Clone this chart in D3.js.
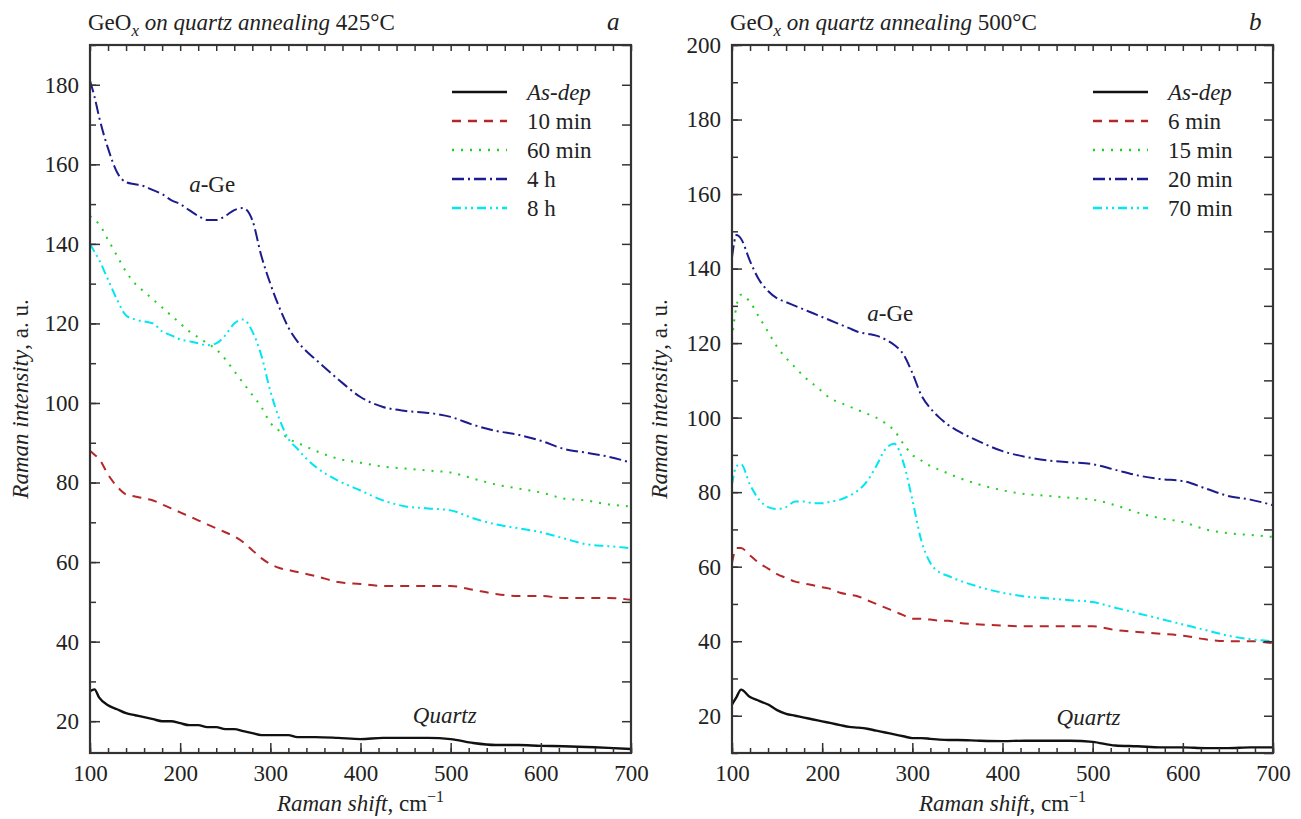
<!DOCTYPE html>
<html>
<head>
<meta charset="utf-8">
<script src="https://cdn.jsdelivr.net/npm/d3@7"></script>
<style>
  body { margin: 0; background: #fff; }
  svg { display: block; }
  svg text {
    font-family: "Liberation Serif", "DejaVu Serif", "Noto Serif", Tinos, "Times New Roman", Times,
      "Nimbus Roman", FreeSerif, serif !important;
  }
</style>
</head>
<body>
<svg id="chart" width="1301" height="819"></svg>
<script>
'use strict';

// Raman shift positions (cm-1), shared by both panels
var shifts = [100, 105, 110, 120, 130, 140, 150, 160, 170, 180, 190, 200, 210, 220, 230, 240, 250, 260, 270, 280,
  290, 300, 310, 320, 330, 340, 350, 375, 400, 425, 450, 475, 500, 525, 550, 575, 600, 625, 650, 675, 700];

var xTicks = [100, 200, 300, 400, 500, 600, 700];

// Panel a : annealing 425 C
var asDepA = [27.5, 28, 26, 24, 23, 22, 21.5, 21, 20.5, 20, 20, 19.5, 19, 19, 18.5, 18.5, 18, 18, 17.5, 17,
  16.5, 16.5, 16.5, 16.5, 16, 16, 16, 15.8, 15.5, 15.8, 15.8, 15.8, 15.5, 14.5, 14, 14, 13.8, 13.7, 13.5, 13.3, 13];
var min10A = [88, 87, 86, 82, 79, 77, 76.5, 76, 75.5, 74.5, 73.5, 72.5, 71.5, 70.5, 69.5, 68.5, 67.5, 66.5, 65, 63,
  61, 59.5, 58.5, 58, 57.5, 57, 56.5, 55, 54.5, 54, 54, 54, 54, 53, 52, 51.5, 51.5, 51, 51, 51, 50.5];
var min60A = [147, 146, 145, 141, 137, 133, 130, 128, 126, 124, 122, 120, 118, 116.5, 115, 113.5, 111, 108, 105, 102,
  99, 95, 93, 91, 90, 89, 88, 86, 85, 84, 83.5, 83, 82.5, 81, 79.5, 78.5, 77.5, 76, 75.5, 74.5, 74];
var h4A = [181, 177, 172, 164, 158, 155.5, 155, 154.5, 153.5, 152.5, 151, 150, 148.5, 147, 146, 146, 147, 148.5, 149, 146,
  137, 130, 124, 119, 115.5, 113, 111, 106, 101.5, 99, 98, 97.5, 96.5, 94.5, 93, 92, 90.5, 88.5, 87.5, 86.5, 85];
var h8A = [140, 138, 136, 131, 126, 122, 121, 120.5, 120, 118, 117, 116, 115.5, 115, 114.5, 115, 117, 120, 121, 118,
  112, 103, 96, 91, 88.5, 86, 84, 80.5, 78, 75.5, 74, 73.5, 73, 71, 69.5, 68.5, 67.5, 66, 64.5, 64, 63.5];
var labelsA = ['As-dep', '10 min', '60 min', '4 h', '8 h'];
var yTicksA = [20, 40, 60, 80, 100, 120, 140, 160, 180];

// Panel b : annealing 500 C
var asDepB = [23, 25, 27, 25, 24, 23, 21.5, 20.5, 20, 19.5, 19, 18.5, 18, 17.5, 17, 16.8, 16.5, 16, 15.5, 15,
  14.5, 14, 14, 13.8, 13.6, 13.5, 13.5, 13.3, 13.2, 13.3, 13.3, 13.3, 13, 12, 11.8, 11.5, 11.5, 11.3, 11.3, 11.5, 11.5];
var min6B = [61, 65, 65, 63, 61, 59.5, 58, 57, 56, 55.5, 55, 54.5, 54, 53, 52.5, 52, 51, 50, 49, 48,
  47, 46, 46, 45.8, 45.5, 45.5, 45, 44.5, 44.2, 44, 44, 44, 44, 43, 42.5, 42, 41.5, 40.5, 40, 40, 39.5];
var min15B = [121, 130, 133, 131, 127, 123, 119, 116, 113.5, 111, 109, 107, 105, 104, 103, 102, 101, 100, 98.5, 96.5,
  93, 90, 88.5, 87, 86, 85, 84, 82, 80.5, 79.5, 79, 78.5, 78, 76.5, 74.5, 73, 72, 70, 69, 68.5, 68];
var min20B = [143, 149, 148, 142, 137, 134, 132, 131, 130, 129, 128, 127, 126, 125, 124, 123, 122.5, 122, 121, 119.5,
  117, 112, 106, 102.5, 100, 98, 96.5, 93.5, 91, 89.5, 88.5, 88, 87.5, 86, 84.5, 83.5, 83, 81, 79, 78, 76.5];
var min70B = [82, 87, 87.5, 82, 78, 76, 75.5, 76, 77.5, 77.5, 77, 77, 77.5, 78, 79, 80.5, 83, 87, 91.5, 93,
  88, 78, 67, 61, 58.5, 57.5, 56.5, 54.5, 53, 52, 51.5, 51, 50.5, 49, 47.5, 46, 44.5, 43, 41.5, 40.5, 40];
var labelsB = ['As-dep', '6 min', '15 min', '20 min', '70 min'];
var yTicksB = [20, 40, 60, 80, 100, 120, 140, 160, 180, 200];

// line styles, in legend order
var styles = [
  { color: '#111111', dash: null },
  { color: '#b5282a', dash: '9,7' },
  { color: '#22d022', dash: '2,7' },
  { color: '#1c1c8e', dash: '12,4,2,4' },
  { color: '#00e6f2', dash: '9,4,2,4,2,4' }
];

var svg = d3.select('#chart');

/**
 * Draw one panel
 */
function drawPanel(p) {
  var x = d3.scaleLinear().domain([100, 700]).range([p.left, p.right]);
  var y = d3.scaleLinear().domain(p.yDomain).range([p.bottom, p.top]);
  var g = svg.append('g');

  // curves
  var line = d3.line()
    .x(function(d) { return x(d[0]); })
    .y(function(d) { return y(d[1]); })
    .curve(d3.curveMonotoneX);

  p.series.forEach(function(values, i) {
    var pts = shifts.map(function(s, k) { return [s, values[k]]; });
    g.append('path')
      .attr('d', line(pts))
      .attr('fill', 'none')
      .attr('stroke', styles[i].color)
      .attr('stroke-width', i === 0 ? 2.4 : 2)
      .attr('stroke-dasharray', styles[i].dash);
  });

  // ticks on all four sides, pointing inward
  var xMinor = d3.range(100, 701, 20);
  var yMinor = d3.range(Math.ceil(p.yDomain[0] / 10) * 10, p.yDomain[1] + 1, 10);

  g.append('g').attr('transform', 'translate(0,' + p.bottom + ')')
    .call(d3.axisBottom(x).tickValues(xMinor).tickSize(-5).tickFormat(''));
  g.append('g').attr('transform', 'translate(0,' + p.bottom + ')')
    .call(d3.axisBottom(x).tickValues(xTicks).tickSize(-10).tickPadding(12).tickFormat(d3.format('d')));
  g.append('g').attr('transform', 'translate(0,' + p.top + ')')
    .call(d3.axisTop(x).tickValues(xMinor).tickSize(-6).tickFormat(''));

  g.append('g').attr('transform', 'translate(' + p.left + ',0)')
    .call(d3.axisLeft(y).tickValues(yMinor).tickSize(-6).tickFormat(''));
  g.append('g').attr('transform', 'translate(' + p.left + ',0)')
    .call(d3.axisLeft(y).tickValues(p.yTicks).tickSize(-10).tickPadding(11).tickFormat(d3.format('d')));
  g.append('g').attr('transform', 'translate(' + p.right + ',0)')
    .call(d3.axisRight(y).tickValues(yMinor).tickSize(-9).tickFormat(''));

  g.selectAll('.domain').remove();
  g.selectAll('.tick line').attr('stroke', '#333').attr('stroke-width', 1.5);
  g.selectAll('.tick text')
    .attr('fill', '#222')
    .attr('font-family', null)
    .style('font-size', '23px');

  // frame
  g.append('rect')
    .attr('x', p.left).attr('y', p.top)
    .attr('width', p.right - p.left).attr('height', p.bottom - p.top)
    .attr('fill', 'none').attr('stroke', '#333').attr('stroke-width', 2.2);

  // title
  var t = g.append('text').attr('x', p.left - 2).attr('y', 30)
    .attr('fill', '#222').style('font-size', '23px');
  t.append('tspan').text('GeO');
  t.append('tspan').attr('dy', 6).style('font-size', '17px').style('font-style', 'italic').text('x');
  t.append('tspan').attr('dy', -6).style('font-style', 'italic').text(' on quartz annealing');
  t.append('tspan').text(' ' + p.temp);

  g.append('text').attr('x', p.right - 24).attr('y', 30)
    .attr('fill', '#222').style('font-size', '25px').style('font-style', 'italic')
    .text(p.letter);

  // axis titles
  var xt = g.append('text')
    .attr('x', (p.left + p.right) / 2).attr('y', 811)
    .attr('text-anchor', 'middle').attr('fill', '#222').style('font-size', '23px');
  xt.append('tspan').style('font-style', 'italic').text('Raman shift');
  xt.append('tspan').text(', cm');
  xt.append('tspan').attr('dy', -9).style('font-size', '16px').text('\u22121');

  var yt = g.append('text')
    .attr('transform', 'translate(' + p.yTitleX + ',' + ((p.top + p.bottom) / 2) + ') rotate(-90)')
    .attr('text-anchor', 'middle').attr('fill', '#222').style('font-size', '23px');
  yt.append('tspan').style('font-style', 'italic').text('Raman intensity');
  yt.append('tspan').text(', a. u.');

  // legend
  var lg = g.append('g').attr('transform', 'translate(' + p.legendX + ',92)');
  p.labels.forEach(function(label, i) {
    var row = lg.append('g').attr('transform', 'translate(0,' + (i * 29) + ')');
    row.append('line')
      .attr('x1', 0).attr('x2', 55).attr('y1', 0).attr('y2', 0)
      .attr('stroke', styles[i].color).attr('stroke-width', 2.5)
      .attr('stroke-dasharray', styles[i].dash);
    row.append('text').attr('x', 75).attr('y', 8)
      .attr('fill', '#222').style('font-size', '23px')
      .style('font-style', i === 0 ? 'italic' : 'normal')
      .text(label);
  });

  // annotations
  var ag = g.append('text').attr('x', x(p.geAt[0])).attr('y', y(p.geAt[1]))
    .attr('fill', '#222').style('font-size', '23px');
  ag.append('tspan').style('font-style', 'italic').text('a');
  ag.append('tspan').text('-Ge');

  g.append('text').attr('x', x(p.quartzAt[0])).attr('y', y(p.quartzAt[1]))
    .attr('fill', '#222').style('font-size', '23px').style('font-style', 'italic')
    .text('Quartz');
}

drawPanel({
  left: 90, right: 631, top: 45, bottom: 753,
  yDomain: [12, 190], yTicks: yTicksA, yTitleX: 28,
  series: [asDepA, min10A, min60A, h4A, h8A],
  labels: labelsA, legendX: 452,
  temp: '425\u00b0C', letter: 'a',
  geAt: [210, 153], quartzAt: [458, 19.5]
});

drawPanel({
  left: 732, right: 1273, top: 45, bottom: 753,
  yDomain: [10, 200], yTicks: yTicksB, yTitleX: 667,
  series: [asDepB, min6B, min15B, min20B, min70B],
  labels: labelsB, legendX: 1093,
  temp: '500\u00b0C', letter: 'b',
  geAt: [250, 126], quartzAt: [460, 17.5]
});
</script>
</body>
</html>
